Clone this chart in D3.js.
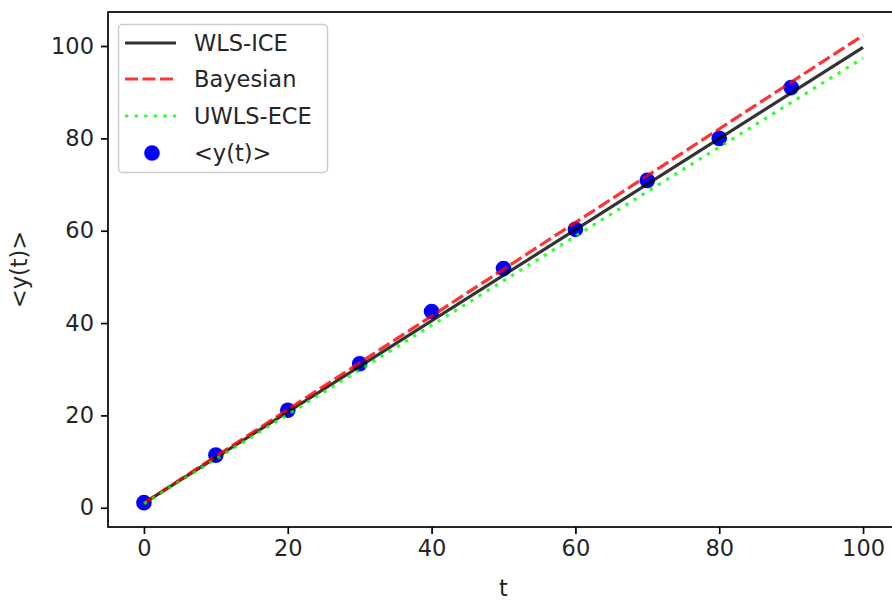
<!DOCTYPE html>
<html>
<head>
<meta charset="utf-8">
<script src="https://cdn.jsdelivr.net/npm/d3@7"></script>
<style>
  body { margin: 0; background: #fff; }
  svg { display: block; font-family: "DejaVu Sans", sans-serif; }
</style>
</head>
<body>
<svg id="chart" width="892" height="601"></svg>
<script>
// ---- data ----
const pointT = [0, 10, 20, 30, 40, 50, 60, 70, 80, 90];
const pointY = [1.1, 11.4, 21.1, 31.2, 42.5, 51.8, 60.3, 70.9, 80.0, 91.0];
const lineT = [0, 100];
const wlsY = [1.0, 99.7];
const bayesY = [1.0, 102.3];
const uwlsY = [0.9, 97.4];
const xTicks = [0, 20, 40, 60, 80, 100];
const yTicks = [0, 20, 40, 60, 80, 100];
const seriesNames = ["WLS-ICE", "Bayesian", "UWLS-ECE", "<y(t)>"];

(function () {
// ---- layout ----
const svg = d3.select("#chart");
const mLeft = 108, mRight = 899, mTop = 12, mBottom = 527;
const fontSize = 22.5;

const allY = pointY.concat(wlsY, bayesY, uwlsY);
const yMin = d3.min(allY), yMax = d3.max(allY);
const yPad = (yMax - yMin) * 0.05;
const xPad = (100 - 0) * 0.05;

const x = d3.scaleLinear().domain([0 - xPad, 100 + xPad]).range([mLeft, mRight]);
const y = d3.scaleLinear().domain([yMin - yPad, yMax + yPad]).range([mBottom, mTop]);

// points (drawn below lines)
const pts = pointT.map((t, i) => ({t, v: pointY[i]}));
svg.append("g").selectAll("circle").data(pts).enter().append("circle")
  .attr("cx", d => x(d.t)).attr("cy", d => y(d.v)).attr("r", 7.8)
  .attr("fill", "#0000ff");

const lineGen = d3.line().x(d => x(d.t)).y(d => y(d.v));
const styles = [
  {vals: wlsY, color: "#000000", dash: null, opacity: 0.8},
  {vals: bayesY, color: "#ff0000", dash: "13,4.5", opacity: 0.8},
  {vals: uwlsY, color: "#00ff00", dash: "3.4,6.2", opacity: 0.8}
];
styles.forEach(s => {
  svg.append("path")
    .datum(lineT.map((t, i) => ({t, v: s.vals[i]})))
    .attr("d", lineGen)
    .attr("fill", "none")
    .attr("stroke", s.color)
    .attr("stroke-opacity", s.opacity)
    .attr("stroke-width", 3.2)
    .attr("stroke-dasharray", s.dash);
});

// axes
const xAxis = d3.axisBottom(x).tickValues(xTicks).tickSize(7).tickPadding(6);
const yAxis = d3.axisLeft(y).tickValues(yTicks).tickSize(7).tickPadding(7);
const gx = svg.append("g").attr("transform", `translate(0,${mBottom})`).call(xAxis);
const gy = svg.append("g").attr("transform", `translate(${mLeft},0)`).call(yAxis);
[gx, gy].forEach(g => {
  g.select(".domain").remove();
  g.selectAll(".tick line").attr("stroke", "#000").attr("stroke-width", 1.7);
  g.selectAll(".tick text").attr("fill", "#262626").attr("font-size", fontSize)
    .attr("font-family", "DejaVu Sans");
});

// frame
svg.append("rect").attr("x", mLeft).attr("y", mTop)
  .attr("width", mRight - mLeft).attr("height", mBottom - mTop)
  .attr("fill", "none").attr("stroke", "#000").attr("stroke-width", 1.7);

// axis labels
svg.append("text").attr("x", (mLeft + mRight) / 2).attr("y", 596)
  .attr("text-anchor", "middle").attr("font-size", fontSize).attr("fill", "#262626")
  .text("t");
svg.append("text")
  .attr("transform", `translate(27,${(mTop + mBottom) / 2}) rotate(-90)`)
  .attr("text-anchor", "middle").attr("font-size", fontSize).attr("fill", "#262626")
  .text("<y(t)>");

// legend
const lg = svg.append("g");
lg.append("rect").attr("x", 118.5).attr("y", 24.5).attr("width", 209).attr("height", 148)
  .attr("rx", 4).attr("fill", "#fff").attr("fill-opacity", 0.8)
  .attr("stroke", "#cccccc").attr("stroke-width", 1.5);
const rowY = [43, 79, 116, 153];
styles.forEach((s, i) => {
  lg.append("line").attr("x1", 125).attr("x2", 176).attr("y1", rowY[i]).attr("y2", rowY[i])
    .attr("stroke", s.color).attr("stroke-opacity", s.opacity).attr("stroke-width", 3.2)
    .attr("stroke-dasharray", s.dash);
});
lg.append("circle").attr("cx", 152).attr("cy", rowY[3]).attr("r", 7.8).attr("fill", "#0000ff");
seriesNames.forEach((n, i) => {
  lg.append("text").attr("x", 194).attr("y", rowY[i]).attr("dy", "0.36em")
    .attr("font-size", fontSize).attr("fill", "#262626").text(n);
});
})();
</script>
</body>
</html>
